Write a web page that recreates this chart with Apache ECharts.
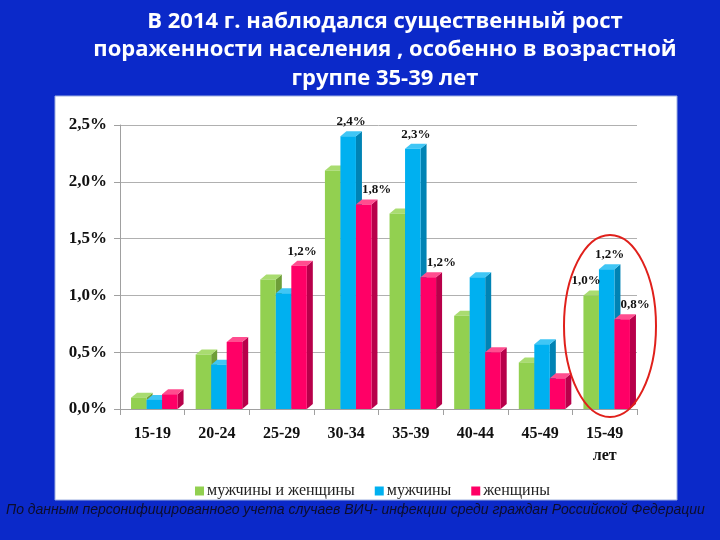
<!DOCTYPE html>
<html>
<head>
<meta charset="utf-8">
<script src="https://cdn.jsdelivr.net/npm/echarts@6/dist/echarts.min.js"></script>
<style>
  html, body { margin: 0; padding: 0; background: #0b29c9; }
  #main { width: 720px; height: 540px; }
</style>
</head>
<body>
<div id="main"></div>
<script>
// возрастные группы
const categories = ['15-19', '20-24', '25-29', '30-34', '35-39', '40-44', '45-49', '15-49\nлет']
// пораженность, %
const bothValues = [0.10, 0.48, 1.14, 2.10, 1.72, 0.82, 0.41, 1.00]
const menValues = [0.08, 0.39, 1.02, 2.40, 2.29, 1.16, 0.57, 1.23]
const womenValues = [0.13, 0.59, 1.26, 1.80, 1.16, 0.50, 0.27, 0.79]
// подписи над столбиками (только у некоторых)
const bothLabels = ['', '', '', '', '', '', '', '1,0%']
const menLabels = ['', '', '', '2,4%', '2,3%', '', '', '1,2%']
const womenLabels = ['', '', '1,2%', '1,8%', '1,2%', '', '', '0,8%']
const yTicks = [0, 0.5, 1.0, 1.5, 2.0, 2.5]
const seriesNames = ['мужчины и женщины', 'мужчины', 'женщины']

const chart = echarts.init(document.getElementById('main'))

// цвета: лицевая грань, боковая, верхняя
const palette = [
  ['#92d050', '#6e9e38', '#a9dc70'],
  ['#00b0f0', '#0083b4', '#40c6f5'],
  ['#ff0066', '#b8004a', '#ff4d8f']
]
const serif = '"Liberation Serif", "DejaVu Serif", serif'
const allValues = [bothValues, menValues, womenValues]
const allLabels = [bothLabels, menLabels, womenLabels]
const DX = 6
const DY = -5

// геометрия столбика idx в категории x
function barBox (api, idx, x, v) {
  const base = api.coord([x, 0])
  const top = api.coord([x, v])
  const band = api.size([1, 0])[0]
  const bw = band * 0.24
  const x0 = base[0] - bw * 1.5 + 2 + idx * bw
  return { x0: x0, x1: x0 + bw, top: top[1], base: base[1] }
}

function makeRender (idx) {
  return function (params, api) {
    const b = barBox(api, idx, api.value(0), api.value(1))
    const c = palette[idx]
    return {
      type: 'group',
      children: [
        {
          type: 'polygon',
          shape: { points: [[b.x1, b.top], [b.x1 + DX, b.top + DY], [b.x1 + DX, b.base + DY], [b.x1, b.base]] },
          style: { fill: c[1] }
        },
        {
          type: 'polygon',
          shape: { points: [[b.x0, b.top], [b.x0 + DX, b.top + DY], [b.x1 + DX, b.top + DY], [b.x1, b.top]] },
          style: { fill: c[2] }
        },
        {
          type: 'rect',
          shape: { x: b.x0, y: b.top, width: b.x1 - b.x0, height: b.base - b.top },
          style: { fill: c[0] }
        }
      ]
    }
  }
}

function makeSeries (idx, values) {
  return {
    type: 'custom',
    name: seriesNames[idx],
    itemStyle: { color: palette[idx][0] },
    renderItem: makeRender(idx),
    encode: { x: 0, y: 1 },
    data: values.map((v, i) => [i, v]),
    z: 3
  }
}

// подписи рисуются поверх всех столбиков; если соседний синий выше — сдвиг в сторону
function renderLabels (params, api) {
  const i = params.dataIndex
  const children = []
  for (let s = 0; s < 3; s++) {
    const txt = allLabels[s][i]
    if (!txt) continue
    const v = allValues[s][i]
    const b = barBox(api, s, api.value(0), v)
    let shift = 0
    if (s === 0 && menValues[i] > v) shift = -8
    if (s === 2 && menValues[i] > v) shift = 10
    children.push({
      type: 'text',
      style: {
        text: txt,
        x: (b.x0 + b.x1) / 2 + DX / 2 + shift,
        y: b.top + DY - 3,
        align: 'center',
        verticalAlign: 'bottom',
        fill: '#111',
        font: 'bold 13px ' + serif
      }
    })
  }
  return { type: 'group', children: children }
}

const options = {
  backgroundColor: '#0b29c9',
  animation: false,
  graphic: [
    {
      type: 'rect',
      shape: { x: 55, y: 96, width: 622, height: 404 },
      style: { fill: '#ffffff', stroke: '#9fb0e0', lineWidth: 1 },
      z: -10
    },
    {
      type: 'text',
      style: {
        text: 'В 2014 г. наблюдался существенный рост\nпораженности населения , особенно в возрастной\nгруппе 35-39 лет',
        x: 385,
        y: 7,
        align: 'center',
        fill: '#ffffff',
        font: 'bold 22px "Open Sans", "Liberation Sans", sans-serif',
        lineHeight: 28.5
      }
    },
    {
      type: 'text',
      style: {
        text: 'По данным персонифицированного учета случаев ВИЧ- инфекции среди граждан Российской Федерации',
        x: 6,
        y: 503,
        fill: '#0d0d2a',
        font: 'italic 14px "Liberation Sans", Arial, sans-serif'
      }
    },
    {
      type: 'ellipse',
      shape: { cx: 610, cy: 326, rx: 46, ry: 91 },
      style: { fill: 'none', stroke: '#e0201b', lineWidth: 2 },
      z: 10
    }
  ],
  legend: {
    data: seriesNames,
    bottom: 36,
    left: 190,
    icon: 'rect',
    itemWidth: 9,
    itemHeight: 9,
    itemGap: 20,
    textStyle: { fontFamily: serif, fontSize: 16, color: '#222', padding: [0, 0, 0, -2] }
  },
  grid: {
    left: 120,
    width: 517,
    top: 125,
    height: 284
  },
  xAxis: {
    type: 'category',
    data: categories,
    axisLine: { lineStyle: { color: '#a0a0a0' } },
    axisTick: { show: true, alignWithLabel: false, length: 6, lineStyle: { color: '#a0a0a0' } },
    axisLabel: {
      fontFamily: serif,
      fontWeight: 'bold',
      fontSize: 16,
      color: '#111',
      margin: 14,
      lineHeight: 22
    }
  },
  yAxis: {
    type: 'value',
    min: 0,
    max: 2.5,
    interval: 0.5,
    axisLine: { show: true, lineStyle: { color: '#a0a0a0' } },
    axisTick: { show: true, length: 6, lineStyle: { color: '#a0a0a0' } },
    splitLine: { lineStyle: { color: '#b0b0b0' } },
    axisLabel: {
      fontFamily: serif,
      fontWeight: 'bold',
      fontSize: 17,
      color: '#111',
      margin: 13,
      formatter: v => yTicks.includes(v) ? v.toFixed(1).replace('.', ',') + '%' : ''
    }
  },
  series: [
    makeSeries(0, bothValues),
    makeSeries(1, menValues),
    makeSeries(2, womenValues),
    {
      type: 'custom',
      name: 'labels',
      renderItem: renderLabels,
      encode: { x: 0, y: 1 },
      data: categories.map((c, i) => [i, 0]),
      silent: true,
      z: 5
    }
  ]
}

chart.setOption(options)
</script>
</body>
</html>
